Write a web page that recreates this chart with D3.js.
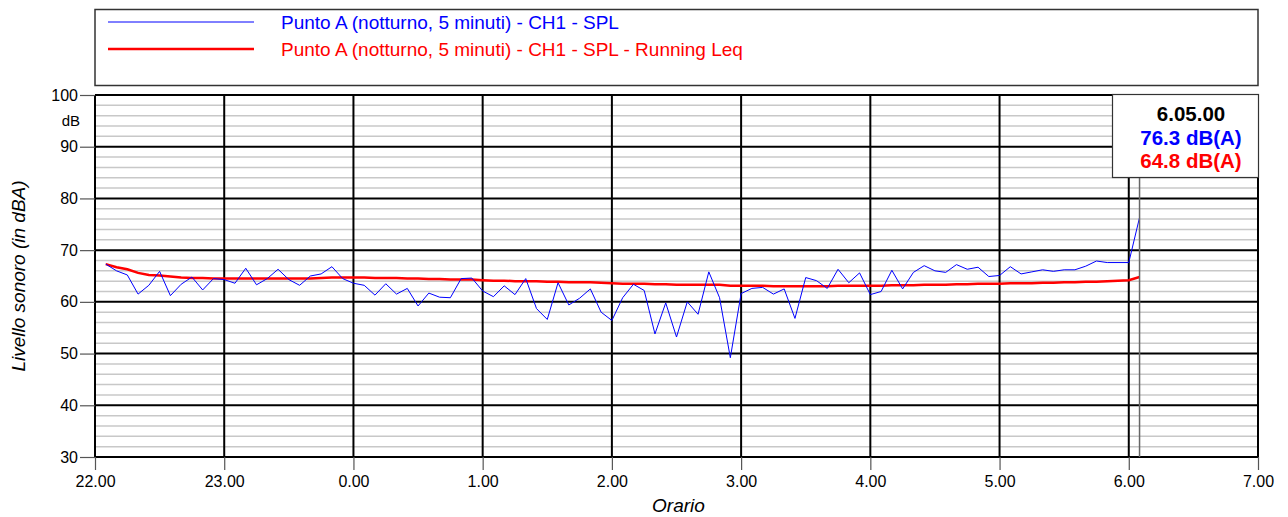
<!DOCTYPE html>
<html>
<head>
<meta charset="utf-8">
<script src="https://cdn.jsdelivr.net/npm/d3@7"></script>
<style>
  body { margin: 0; background: #fff; }
  svg { font-family: "Liberation Sans", Arial, sans-serif; }
</style>
</head>
<body>
<svg id="drawing_region"></svg>
<script>
// SPL every 5 minutes, 22.05 -> 6.05
const splValues = [
  67.3, 66.0, 65.2, 61.5, 63.2, 65.9, 61.2, 63.4, 64.8, 62.3, 64.5, 64.3,
  63.6, 66.5, 63.3, 64.5, 66.3, 64.3, 63.2, 65.0, 65.4, 66.8, 64.5, 63.6,
  63.2, 61.3, 63.5, 61.5, 62.6, 59.2, 61.7, 60.9, 60.8, 64.5, 64.6, 62.1,
  61.0, 63.1, 61.4, 64.5, 58.7, 56.6, 63.7, 59.4, 60.7, 62.5, 58.0, 56.4,
  60.8, 63.4, 62.2, 53.8, 59.8, 53.2, 60.0, 57.6, 65.8, 60.8, 49.2, 61.6,
  62.6, 62.8, 61.5, 62.5, 56.8, 64.7, 64.1, 62.6, 66.3, 63.7, 65.6, 61.4,
  62.0, 66.1, 62.5, 65.7, 67.0, 66.0, 65.7, 67.2, 66.3, 66.7, 64.9, 65.1,
  66.8, 65.4, 65.8, 66.2, 65.9, 66.2, 66.2, 66.9, 67.9, 67.6, 67.6, 67.6,
  76.3
];
// Running Leq
const leqValues = [
  67.3, 66.7, 66.3, 65.6, 65.2, 65.1, 64.9, 64.7, 64.6, 64.6, 64.5, 64.5,
  64.5, 64.5, 64.5, 64.5, 64.5, 64.5, 64.5, 64.5, 64.6, 64.7, 64.7, 64.7,
  64.7, 64.6, 64.6, 64.6, 64.5, 64.5, 64.4, 64.4, 64.3, 64.3, 64.3, 64.2,
  64.1, 64.1, 64.0, 64.0, 64.0, 63.9, 63.9, 63.8, 63.8, 63.8, 63.7, 63.6,
  63.5, 63.5, 63.5, 63.4, 63.4, 63.3, 63.3, 63.3, 63.3, 63.3, 63.1, 63.1,
  63.1, 63.1, 63.0, 63.0, 63.0, 63.0, 63.0, 63.0, 63.1, 63.1, 63.1, 63.1,
  63.1, 63.2, 63.2, 63.2, 63.3, 63.3, 63.3, 63.4, 63.4, 63.5, 63.5, 63.5,
  63.6, 63.6, 63.6, 63.7, 63.7, 63.8, 63.8, 63.9, 63.9, 64.0, 64.1, 64.2,
  64.8
];
const seriesNames = [
  "Punto A (notturno, 5 minuti) - CH1 - SPL",
  "Punto A (notturno, 5 minuti) - CH1 - SPL - Running Leq"
];
const cursorLabel = "6.05.00";
const cursorValues = ["76.3 dB(A)", "64.8 dB(A)"];
const yTicks = [30, 40, 50, 60, 70, 80, 90, 100];

const width = 1288, height = 517;
const margin = { top: 95, right: 30, bottom: 60, left: 95 };
const innerW = width - margin.left - margin.right;
const innerH = height - margin.top - margin.bottom;
const colors = ["#0000ff", "#ff0000"];

const t0 = new Date(2020, 0, 1, 22, 0);
const t1 = new Date(2020, 0, 2, 7, 0);
const firstSample = new Date(2020, 0, 1, 22, 5);
const times = d3.timeMinute.every(5).range(firstSample, d3.timeMinute.offset(firstSample, 5 * splValues.length));

const svg = d3.select("#drawing_region")
  .attr("width", width)
  .attr("height", height);

const x = d3.scaleTime().domain([t0, t1]).range([0, innerW]);
const y = d3.scaleLinear().domain([30, 100]).range([innerH, 0]);

// legend
const legend = svg.append("g");
legend.append("rect")
  .attr("x", margin.left).attr("y", 9.5)
  .attr("width", innerW).attr("height", 76)
  .attr("fill", "#fff").attr("stroke", "#333").attr("stroke-width", 1.5);
seriesNames.forEach((name, i) => {
  const ly = 22 + i * 27;
  legend.append("line")
    .attr("x1", 108).attr("x2", 254).attr("y1", ly).attr("y2", ly)
    .attr("stroke", colors[i]).attr("stroke-width", i === 0 ? 1 : 2.5);
  legend.append("text")
    .attr("x", 281).attr("y", ly + 6.5)
    .attr("fill", colors[i]).attr("font-size", 19)
    .text(name);
});

const chart = svg.append("g")
  .attr("transform", `translate(${margin.left}, ${margin.top})`);

// minor grid every 2 dB
chart.append("g").selectAll("line")
  .data(d3.range(30, 101, 2).filter(v => v % 10 !== 0))
  .join("line")
  .attr("x1", 0).attr("x2", innerW)
  .attr("y1", d => y(d)).attr("y2", d => y(d))
  .attr("stroke", "#c8c8c8").attr("stroke-width", 1.5);

// major grid
chart.append("g").selectAll("line")
  .data(yTicks)
  .join("line")
  .attr("x1", 0).attr("x2", innerW)
  .attr("y1", d => y(d)).attr("y2", d => y(d))
  .attr("stroke", "#000").attr("stroke-width", 2);
chart.append("g").selectAll("line")
  .data(x.ticks(d3.timeHour.every(1)))
  .join("line")
  .attr("x1", d => x(d)).attr("x2", d => x(d))
  .attr("y1", 0).attr("y2", innerH)
  .attr("stroke", "#000").attr("stroke-width", 2);

// axes
const yAxis = d3.axisLeft(y).tickValues(yTicks).tickSize(15).tickPadding(2);
const yg = chart.append("g").call(yAxis);
const xAxis = d3.axisBottom(x).ticks(d3.timeHour.every(1))
  .tickFormat(d3.timeFormat("%-H.%M")).tickSize(13).tickPadding(6);
const xg = chart.append("g").attr("transform", `translate(0, ${innerH})`).call(xAxis);
[yg, xg].forEach(g => {
  g.select(".domain").remove();
  g.selectAll(".tick line").attr("stroke", "#555").attr("stroke-width", 1.2);
  g.selectAll(".tick text").attr("font-size", 16).attr("fill", "#000")
    .attr("font-family", "Liberation Sans, Arial, sans-serif");
});
chart.append("text")
  .attr("x", -15).attr("y", 31)
  .attr("text-anchor", "end").attr("font-size", 15)
  .text("dB");

// series
const lineSpl = d3.line().x((d, i) => x(times[i])).y(d => y(d));
chart.append("path")
  .datum(leqValues)
  .attr("fill", "none").attr("stroke", colors[1]).attr("stroke-width", 2.5)
  .attr("d", lineSpl);
chart.append("path")
  .datum(splValues)
  .attr("fill", "none").attr("stroke", colors[0]).attr("stroke-width", 1)
  .attr("d", lineSpl);

// cursor
const cursorX = x(times[times.length - 1]);
chart.append("line")
  .attr("x1", cursorX).attr("x2", cursorX)
  .attr("y1", 0).attr("y2", innerH)
  .attr("stroke", "#666").attr("stroke-width", 1.5);

const box = chart.append("g");
box.append("rect")
  .attr("x", 1112 - margin.left + 0.5).attr("y", -0.5)
  .attr("width", innerW - (1112 - margin.left)).attr("height", 83)
  .attr("fill", "#fff").attr("stroke", "#333").attr("stroke-width", 1.2);
const boxCx = 1191 - margin.left;
box.append("text")
  .attr("x", boxCx).attr("y", 25.5)
  .attr("text-anchor", "middle").attr("font-size", 20.5).attr("font-weight", "bold")
  .text(cursorLabel);
cursorValues.forEach((v, i) => {
  box.append("text")
    .attr("x", boxCx).attr("y", 49.5 + i * 23)
    .attr("text-anchor", "middle").attr("font-size", 20.5).attr("font-weight", "bold")
    .attr("fill", colors[i])
    .text(v);
});

// axis titles
svg.append("text")
  .attr("transform", `translate(25, ${margin.top + innerH / 2}) rotate(-90)`)
  .attr("text-anchor", "middle").attr("font-size", 19).attr("font-style", "italic")
  .text("Livello sonoro (in dBA)");
svg.append("text")
  .attr("x", margin.left + innerW / 2 + 2).attr("y", 512)
  .attr("text-anchor", "middle").attr("font-size", 19).attr("font-style", "italic")
  .text("Orario");
</script>
</body>
</html>
